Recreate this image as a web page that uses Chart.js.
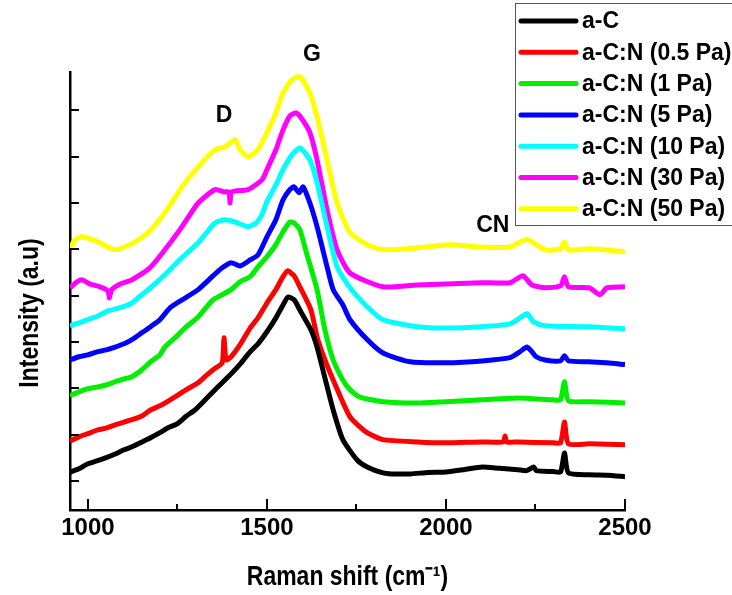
<!DOCTYPE html>
<html>
<head>
<meta charset="utf-8">
<title>Raman spectra a-C / a-C:N</title>
<script src="https://cdn.jsdelivr.net/npm/chart.js@4/dist/chart.umd.min.js"></script>
<style>
  body { margin: 0; background: #fff; }
  canvas { display: block; }
</style>
</head>
<body>
<canvas id="raman" width="732" height="595"></canvas>
<script>
// spectra (Raman shift in cm-1, intensity in a.u., offset per sample)
const aC_x = [950, 975, 1000, 1025, 1051, 1076, 1101, 1125, 1151, 1175, 1201, 1225, 1249, 1275, 1299, 1325, 1349, 1375, 1400, 1425, 1450, 1475, 1500, 1525, 1545, 1559, 1576, 1592, 1623, 1640, 1662, 1685, 1712, 1752, 1780, 1824, 1849, 1900, 1950, 2000, 2050, 2101, 2150, 2201, 2225, 2245, 2252, 2300, 2320, 2331, 2342, 2400, 2450, 2500];
const aC_y = [0.19, 0.26, 0.37, 0.43, 0.50, 0.58, 0.67, 0.74, 0.84, 0.93, 1.04, 1.15, 1.23, 1.40, 1.53, 1.73, 1.92, 2.12, 2.31, 2.52, 2.76, 2.96, 3.22, 3.52, 3.80, 3.97, 3.91, 3.69, 3.26, 2.89, 2.22, 1.53, 0.89, 0.45, 0.30, 0.17, 0.15, 0.15, 0.18, 0.19, 0.24, 0.30, 0.27, 0.24, 0.22, 0.30, 0.22, 0.20, 0.19, 0.60, 0.17, 0.13, 0.12, 0.09];

const p05_x = [950, 975, 1000, 1028, 1051, 1076, 1101, 1123, 1151, 1175, 1201, 1215, 1249, 1275, 1308, 1330, 1350, 1375, 1380, 1386, 1400, 1425, 1453, 1475, 1500, 1525, 1545, 1559, 1570, 1576, 1592, 1623, 1640, 1662, 1685, 1732, 1780, 1824, 1919, 2000, 2101, 2160, 2165, 2170, 2201, 2300, 2320, 2331, 2342, 2400, 2500];
const p05_y = [0.86, 0.95, 1.02, 1.10, 1.14, 1.21, 1.27, 1.32, 1.40, 1.53, 1.62, 1.68, 1.84, 1.97, 2.12, 2.27, 2.40, 2.55, 3.09, 2.61, 2.68, 2.94, 3.30, 3.52, 3.84, 4.13, 4.41, 4.54, 4.47, 4.43, 4.19, 3.69, 3.11, 2.61, 2.18, 1.38, 1.04, 0.89, 0.84, 0.82, 0.84, 0.84, 0.97, 0.84, 0.84, 0.82, 0.82, 1.27, 0.80, 0.80, 0.78];

const p1_x = [950, 975, 1000, 1028, 1051, 1076, 1101, 1123, 1151, 1175, 1201, 1215, 1249, 1275, 1308, 1330, 1350, 1375, 1400, 1425, 1453, 1475, 1500, 1525, 1545, 1564, 1576, 1592, 1612, 1640, 1662, 1685, 1712, 1732, 1760, 1824, 1919, 2000, 2101, 2201, 2300, 2320, 2331, 2342, 2400, 2500];
const p1_y = [1.84, 1.92, 1.99, 2.03, 2.07, 2.14, 2.20, 2.25, 2.40, 2.57, 2.72, 2.89, 3.13, 3.33, 3.54, 3.74, 3.91, 4.02, 4.13, 4.30, 4.41, 4.62, 4.84, 5.10, 5.38, 5.59, 5.57, 5.42, 4.88, 4.13, 3.26, 2.61, 2.18, 1.97, 1.81, 1.71, 1.68, 1.71, 1.75, 1.79, 1.75, 1.75, 2.14, 1.73, 1.71, 1.68];

const p5_x = [950, 975, 1000, 1028, 1051, 1076, 1101, 1123, 1151, 1175, 1201, 1230, 1263, 1308, 1350, 1375, 1400, 1425, 1453, 1475, 1500, 1525, 1545, 1564, 1576, 1590, 1601, 1620, 1640, 1668, 1685, 1712, 1732, 1780, 1824, 1900, 2000, 2101, 2179, 2207, 2226, 2240, 2252, 2277, 2320, 2331, 2342, 2400, 2450, 2500];
const p5_y = [2.61, 2.68, 2.72, 2.79, 2.83, 2.89, 2.96, 3.05, 3.20, 3.33, 3.48, 3.74, 3.91, 4.13, 4.43, 4.60, 4.71, 4.64, 4.77, 4.88, 5.27, 5.64, 6.07, 6.29, 6.35, 6.22, 6.35, 6.00, 5.49, 4.62, 4.13, 3.80, 3.48, 3.05, 2.76, 2.57, 2.55, 2.59, 2.66, 2.79, 2.89, 2.79, 2.68, 2.61, 2.59, 2.70, 2.59, 2.57, 2.55, 2.51];

const p10_x = [950, 975, 1000, 1028, 1056, 1090, 1123, 1151, 1175, 1215, 1260, 1308, 1355, 1383, 1411, 1447, 1470, 1486, 1500, 1525, 1545, 1570, 1592, 1620, 1640, 1668, 1696, 1732, 1780, 1824, 1919, 2000, 2101, 2179, 2207, 2226, 2245, 2277, 2400, 2500];
const p10_y = [3.35, 3.41, 3.48, 3.56, 3.67, 3.74, 3.84, 4.02, 4.17, 4.45, 4.80, 5.14, 5.57, 5.64, 5.59, 5.49, 5.57, 5.75, 6.03, 6.39, 6.72, 7.04, 7.19, 6.93, 6.44, 5.49, 4.62, 4.17, 3.76, 3.48, 3.33, 3.30, 3.33, 3.39, 3.52, 3.61, 3.43, 3.35, 3.33, 3.28];

const p30_x = [950, 970, 984, 1006, 1034, 1056, 1060, 1066, 1090, 1123, 1173, 1215, 1263, 1308, 1355, 1380, 1394, 1397, 1402, 1447, 1486, 1500, 1525, 1545, 1564, 1581, 1592, 1620, 1640, 1668, 1696, 1732, 1824, 1919, 2000, 2101, 2179, 2215, 2240, 2277, 2320, 2331, 2342, 2400, 2430, 2450, 2500];
const p30_y = [4.17, 4.30, 4.34, 4.25, 4.19, 4.10, 3.95, 4.12, 4.25, 4.34, 4.60, 4.99, 5.49, 6.00, 6.29, 6.24, 6.24, 6.00, 6.24, 6.29, 6.50, 6.72, 7.15, 7.58, 7.88, 7.95, 7.88, 7.52, 6.93, 5.85, 4.99, 4.49, 4.19, 4.23, 4.25, 4.28, 4.28, 4.43, 4.23, 4.17, 4.21, 4.41, 4.19, 4.17, 4.02, 4.17, 4.19];

const p50_x = [950, 965, 984, 1028, 1076, 1123, 1168, 1215, 1263, 1308, 1355, 1383, 1411, 1425, 1447, 1475, 1500, 1525, 1545, 1570, 1592, 1620, 1640, 1668, 1696, 1732, 1780, 1824, 1919, 2011, 2095, 2179, 2226, 2277, 2320, 2331, 2342, 2400, 2500];
const p50_y = [5.03, 5.21, 5.27, 5.16, 4.99, 5.12, 5.36, 5.79, 6.35, 6.78, 7.15, 7.21, 7.37, 7.15, 7.00, 7.15, 7.52, 7.95, 8.38, 8.66, 8.73, 8.38, 7.86, 6.93, 6.00, 5.36, 5.10, 4.99, 5.03, 5.10, 5.05, 5.05, 5.21, 4.99, 5.01, 5.16, 4.99, 5.01, 4.95];

const seriesLabels = ["a-C", "a-C:N (0.5 Pa)", "a-C:N (1 Pa)", "a-C:N (5 Pa)", "a-C:N (10 Pa)", "a-C:N (30 Pa)", "a-C:N (50 Pa)"];
const seriesColors = ["#000000", "#ff0000", "#00ee00", "#0000ff", "#00ffff", "#ff00ff", "#ffff00"];
const seriesX = [aC_x, p05_x, p1_x, p5_x, p10_x, p30_x, p50_x];
const seriesY = [aC_y, p05_y, p1_y, p5_y, p10_y, p30_y, p50_y];

const xTicks = [1000, 1500, 2000, 2500];
const xMinorTicks = [1250, 1750, 2250];
const yTicks = [0, 1, 2, 3, 4, 5, 6, 7, 8];

// band labels, placed in data units
const peakNames = ["D", "G", "CN"];
const peakX = [1380, 1626, 2131];
const peakY = [7.88, 9.2, 5.52];

const xTitle = "Raman shift (cm\u207B\u00B9)";
const yTitle = "Intensity (a.u)";

const font = "'Liberation Sans', Arial, sans-serif";
const squeeze = 0.82; // the original uses a narrow bold face for the axis titles

const datasets = seriesLabels.map((label, i) => ({
  label: label,
  data: seriesX[i].map((x, j) => ({ x: x, y: seriesY[i][j] })),
  borderColor: seriesColors[i],
  backgroundColor: seriesColors[i],
  borderWidth: 5,
  pointRadius: 0,
  tension: 0.2,
  fill: false,
}));

function line(ctx, x1, y1, x2, y2) {
  ctx.beginPath();
  ctx.moveTo(x1, y1);
  ctx.lineTo(x2, y2);
  ctx.stroke();
}

function squeezedText(ctx, text, x, y, angle) {
  ctx.save();
  ctx.translate(x, y);
  ctx.rotate(angle);
  ctx.scale(squeeze, 1);
  ctx.fillText(text, 0, 0);
  ctx.restore();
}

// inward tick marks, band labels, axis titles and the boxed legend
const extras = {
  id: "extras",
  afterDraw(chart) {
    const ctx = chart.ctx;
    const xs = chart.scales.x;
    const ys = chart.scales.y;
    const area = chart.chartArea;
    ctx.save();
    ctx.strokeStyle = "#000";
    ctx.lineWidth = 2;
    xTicks.forEach((v) => {
      const px = Math.round(xs.getPixelForValue(v));
      line(ctx, px, area.bottom, px, area.bottom - 11);
    });
    xMinorTicks.forEach((v) => {
      const px = Math.round(xs.getPixelForValue(v));
      line(ctx, px, area.bottom, px, area.bottom - 6);
    });
    yTicks.forEach((v) => {
      const py = Math.round(ys.getPixelForValue(v));
      line(ctx, area.left, py, area.left + 9, py);
    });

    ctx.fillStyle = "#000";
    ctx.textAlign = "center";
    ctx.textBaseline = "middle";
    ctx.font = "bold 23px " + font;
    peakNames.forEach((name, i) => {
      ctx.fillText(name, xs.getPixelForValue(peakX[i]), ys.getPixelForValue(peakY[i]));
    });

    ctx.font = "bold 28px " + font;
    squeezedText(ctx, yTitle, 30, 313, -Math.PI / 2);
    squeezedText(ctx, xTitle, (area.left + area.right) / 2, 577, 0);

    // legend box
    ctx.fillStyle = "#fff";
    ctx.fillRect(515, 3, 240, 222);
    ctx.strokeStyle = "#555";
    ctx.lineWidth = 1;
    ctx.strokeRect(515.5, 3.5, 240, 222);
    ctx.font = "bold 23px " + font;
    ctx.textAlign = "left";
    chart.data.datasets.forEach((ds, i) => {
      const cy = 21 + i * 31.3;
      ctx.strokeStyle = ds.borderColor;
      ctx.lineWidth = 5;
      ctx.lineCap = "round";
      line(ctx, 521, cy, 576, cy);
      ctx.fillStyle = "#000";
      ctx.fillText(ds.label, 582, cy + 1);
    });
    ctx.restore();
  },
};

new Chart(document.getElementById("raman"), {
  type: "line",
  data: { datasets: datasets },
  plugins: [extras],
  options: {
    responsive: false,
    animation: false,
    layout: { padding: { top: 72, right: 107, left: 0, bottom: 0 } },
    plugins: {
      legend: { display: false },
      tooltip: { enabled: false },
    },
    scales: {
      x: {
        type: "linear",
        min: 950,
        max: 2500,
        afterBuildTicks: (scale) => {
          scale.ticks = xTicks.map((v) => ({ value: v }));
        },
        afterFit: (scale) => {
          scale.height = 85;
        },
        grid: { display: true, drawOnChartArea: false, drawTicks: false },
        border: { display: true, color: "#000", width: 2.5 },
        ticks: {
          padding: 4,
          maxRotation: 0,
          autoSkip: false,
          color: "#000",
          font: { family: font, size: 24, weight: "bold" },
          callback: (value) => String(value),
        },
        title: { display: false },
      },
      y: {
        type: "linear",
        min: -0.63,
        max: 8.83,
        afterFit: (scale) => {
          scale.width = 70;
        },
        grid: { display: true, drawOnChartArea: false, drawTicks: false },
        border: { display: true, color: "#000", width: 2.5 },
        ticks: { display: false },
        title: { display: false },
      },
    },
  },
});
</script>
</body>
</html>
